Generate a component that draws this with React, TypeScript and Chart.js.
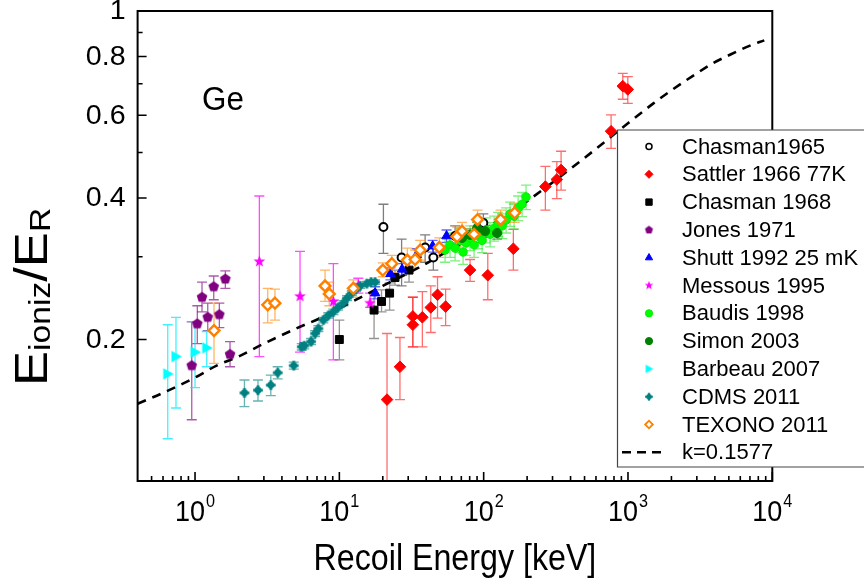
import React, { useEffect, useRef } from 'react';
import { Chart, registerables } from 'chart.js';
import { drawPoint } from 'chart.js/helpers';

Chart.register(...registerables);

const W = 864;
const H = 581;
const FONT = '"Liberation Sans", Arial, Helvetica, sans-serif';

// ---------------- data ----------------
const chasman65E = [20.2, 27.0, 39.3, 44.8, 63.4, 99.5];
const chasman65Y = [0.347, 0.299, 0.314, 0.299, 0.332, 0.354];
const chasman65Lo = [0.305, 0.260, 0.292, 0.281, 0.316, 0.339];
const chasman65Hi = [0.388, 0.327, 0.334, 0.316, 0.349, 0.370];

const sattlerE = [21.4, 26.3, 32.3, 32.3, 37.6, 43.0, 47.9, 54.5, 80.5, 106.8, 160.6, 267.7, 321.1, 343.9, 763.6, 920.4, 997];
const sattlerY = [0.149, 0.175, 0.224, 0.215, 0.223, 0.234, 0.249, 0.235, 0.281, 0.274, 0.312, 0.423, 0.438, 0.459, 0.555, 0.692, 0.681];
const sattlerLo = [0.05, 0.149, 0.193, 0.193, 0.193, 0.207, 0.222, 0.214, 0.266, 0.243, 0.281, 0.377, 0.399, 0.416, 0.510, 0.649, 0.636];
const sattlerHi = [0.206, 0.202, 0.246, 0.246, 0.253, 0.260, 0.272, 0.256, 0.296, 0.305, 0.343, 0.467, 0.478, 0.503, 0.601, 0.737, 0.725];

const chasman68E = [10.0, 17.4, 19.6, 22.3, 24.3, 30.4];
const chasman68Y = [0.200, 0.231, 0.241, 0.251, 0.271, 0.281];
const chasman68Lo = [0.181, 0.201, 0.229, 0.231, 0.261, 0.265];
const chasman68Hi = [0.220, 0.251, 0.255, 0.264, 0.281, 0.295];

const jonesE = [0.949, 1.037, 1.118, 1.225, 1.348, 1.474, 1.622, 1.748];
const jonesY = [0.176, 0.216, 0.246, 0.223, 0.259, 0.226, 0.269, 0.186];
const jonesLo = [0.135, 0.196, 0.229, 0.209, 0.243, 0.212, 0.257, 0.175];
const jonesHi = [0.218, 0.236, 0.265, 0.239, 0.273, 0.239, 0.280, 0.198];

const shuttE = [17.7, 22.6, 27.2, 34.4, 44.3, 55.3];
const shuttY = [0.251, 0.276, 0.282, 0.303, 0.316, 0.332];
const shuttLo = [0.244, 0.268, 0.274, 0.294, 0.307, 0.322];
const shuttHi = [0.259, 0.284, 0.290, 0.312, 0.325, 0.342];

const messousE = [2.79, 5.34, 9.09, 13.54, 16.32];
const messousY = [0.293, 0.247, 0.241, 0.261, 0.239];
const messousLo = [0.184, 0.188, 0.181, 0.251, 0.234];
const messousHi = [0.404, 0.308, 0.290, 0.270, 0.251];

const baudisE = [54.0, 58.5, 63.4, 68.6, 72.0, 75.5, 80.5, 85.8, 91.5, 97.5, 103.9, 110.8, 118.1, 125.9, 134.2, 143.0, 152.4, 162.4, 173.2, 184.6, 196.7];
const baudisY = [0.310, 0.318, 0.313, 0.325, 0.307, 0.321, 0.329, 0.318, 0.332, 0.325, 0.342, 0.335, 0.345, 0.352, 0.349, 0.359, 0.370, 0.366, 0.381, 0.388, 0.402];
const baudisLo = [0.292, 0.299, 0.294, 0.306, 0.289, 0.302, 0.309, 0.299, 0.312, 0.306, 0.321, 0.315, 0.324, 0.331, 0.328, 0.337, 0.348, 0.344, 0.358, 0.365, 0.378];
const baudisHi = [0.329, 0.337, 0.332, 0.345, 0.325, 0.340, 0.349, 0.337, 0.352, 0.345, 0.363, 0.355, 0.366, 0.373, 0.370, 0.381, 0.392, 0.388, 0.404, 0.411, 0.426];

const simonE = [70.8, 80.5, 90.2, 102.3, 123.9];
const simonY = [0.329, 0.334, 0.345, 0.340, 0.337];
const simonLo = [0.319, 0.324, 0.335, 0.330, 0.327];
const simonHi = [0.339, 0.344, 0.355, 0.350, 0.347];

const barbeauE = [0.647, 0.738, 1.0, 1.205];
const barbeauY = [0.169, 0.184, 0.188, 0.192];
const barbeauLo = [0.123, 0.143, 0.158, 0.175];
const barbeauHi = [0.215, 0.223, 0.218, 0.208];

const cdmsE = [2.20, 2.73, 3.35, 3.74, 4.83, 5.49, 5.72, 6.37, 6.79, 7.15, 7.75, 8.39, 9.09, 9.79, 10.66, 11.31, 12.19, 13.05, 13.92, 15.49, 16.59, 17.68];
const cdmsY = [0.154, 0.156, 0.160, 0.170, 0.176, 0.193, 0.194, 0.198, 0.206, 0.211, 0.220, 0.225, 0.229, 0.234, 0.239, 0.245, 0.251, 0.256, 0.260, 0.263, 0.265, 0.265];
const cdmsLo = [0.144, 0.148, 0.152, 0.165, 0.173, 0.190, 0.191, 0.195, 0.203, 0.208, 0.217, 0.222, 0.226, 0.231, 0.236, 0.242, 0.248, 0.253, 0.257, 0.260, 0.262, 0.262];
const cdmsHi = [0.164, 0.164, 0.168, 0.175, 0.179, 0.196, 0.197, 0.201, 0.209, 0.214, 0.223, 0.228, 0.232, 0.237, 0.242, 0.248, 0.254, 0.259, 0.263, 0.266, 0.268, 0.268];

const texonoE = [1.354, 3.19, 3.58, 7.96, 8.52, 12.5, 20.0, 23.1, 29.6, 33.5, 36.3, 49.3, 65.4, 70.8, 85.8, 90.7, 131, 164];
const texonoY = [0.209, 0.237, 0.239, 0.260, 0.250, 0.257, 0.281, 0.290, 0.295, 0.296, 0.310, 0.314, 0.331, 0.340, 0.335, 0.360, 0.360, 0.372];
const texonoLo = [0.178, 0.217, 0.220, 0.241, 0.236, 0.246, 0.272, 0.278, 0.277, 0.284, 0.295, 0.299, 0.315, 0.325, 0.321, 0.344, 0.344, 0.355];
const texonoHi = [0.239, 0.257, 0.256, 0.281, 0.265, 0.268, 0.291, 0.302, 0.313, 0.310, 0.325, 0.329, 0.347, 0.355, 0.349, 0.377, 0.377, 0.390];

const curveE = [0.4, 0.6, 1, 1.41, 2, 3, 5, 7.35, 10, 20, 38.2, 50, 100, 200, 500, 1000, 1500, 2000, 3000, 3900, 5000, 7000, 8800];
const curveY = [0.146, 0.154, 0.166, 0.176, 0.184, 0.196, 0.211, 0.222, 0.233, 0.26, 0.288, 0.302, 0.342, 0.394, 0.487, 0.577, 0.636, 0.678, 0.737, 0.775, 0.805, 0.844, 0.866];

const xMajorTicks = [1, 10, 100, 1000, 10000];
const xTickExponents = ['0', '1', '2', '3', '4'];
const yMajorTicks = [0.2, 0.4, 0.6, 0.8, 1];
const yTickLabels = ['0.2', '0.4', '0.6', '0.8', '1'];
const yMinorTicks = [0.3, 0.5, 0.7, 0.9];

const legendLabels = [
  'Chasman1965', 'Sattler 1966 77K', 'Chasman 1968', 'Jones 1971', 'Shutt 1992 25 mK',
  'Messous 1995', 'Baudis 1998', 'Simon 2003', 'Barbeau 2007', 'CDMS 2011', 'TEXONO 2011',
];
const curveLabel = 'k=0.1577';

// ---------------- helpers ----------------
function makeShape(kind: string, color: string, r: number): HTMLCanvasElement {
  const size = Math.ceil(r * 2 + 4);
  const cv = document.createElement('canvas');
  cv.width = size;
  cv.height = size;
  const c = cv.getContext('2d') as CanvasRenderingContext2D;
  const cx = size / 2;
  const cy = size / 2;
  c.fillStyle = color;
  c.strokeStyle = color;
  c.beginPath();
  if (kind === 'pentagon') {
    for (let k = 0; k < 5; k++) {
      const a = -Math.PI / 2 + (k * 2 * Math.PI) / 5;
      const px = cx + r * Math.cos(a);
      const py = cy + r * Math.sin(a);
      if (k) c.lineTo(px, py); else c.moveTo(px, py);
    }
    c.closePath();
    c.fill();
  } else if (kind === 'star') {
    for (let k = 0; k < 10; k++) {
      const a = -Math.PI / 2 + (k * Math.PI) / 5;
      const rr = k % 2 ? r * 0.42 : r;
      const px = cx + rr * Math.cos(a);
      const py = cy + rr * Math.sin(a);
      if (k) c.lineTo(px, py); else c.moveTo(px, py);
    }
    c.closePath();
    c.fill();
  } else if (kind === 'rtri') {
    c.moveTo(cx + r, cy);
    c.lineTo(cx - r * 0.75, cy - r * 0.95);
    c.lineTo(cx - r * 0.75, cy + r * 0.95);
    c.closePath();
    c.fill();
  } else if (kind === 'cdms') {
    c.arc(cx, cy, r * 0.72, 0, 2 * Math.PI);
    c.fill();
    c.fillRect(cx - r, cy - r * 0.3, 2 * r, r * 0.6);
    c.fillRect(cx - r * 0.3, cy - r, r * 0.6, 2 * r);
  }
  return cv;
}

type SeriesDef = {
  label: string;
  E: number[];
  Y: number[];
  lo: number[];
  hi: number[];
  style: any;
  fill: string;
  stroke: string;
  radius: number;
  bw: number;
  err: string;
  legendStyle: any;
  legendRadius: number;
  legendBw: number;
};

function buildSeries(): SeriesDef[] {
  const purple = '#800080';
  const magenta = '#ff00ff';
  const cyan = '#00ffff';
  const teal = '#008080';
  return [
    { label: legendLabels[0], E: chasman65E, Y: chasman65Y, lo: chasman65Lo, hi: chasman65Hi, style: 'circle', fill: '#ffffff', stroke: '#000000', radius: 4, bw: 2, err: 'rgba(40,40,40,0.6)', legendStyle: 'circle', legendRadius: 3, legendBw: 1.5 },
    { label: legendLabels[1], E: sattlerE, Y: sattlerY, lo: sattlerLo, hi: sattlerHi, style: 'rectRot', fill: '#ff0000', stroke: '#ff0000', radius: 5.8, bw: 1, err: 'rgba(255,30,30,0.65)', legendStyle: 'rectRot', legendRadius: 4, legendBw: 1 },
    { label: legendLabels[2], E: chasman68E, Y: chasman68Y, lo: chasman68Lo, hi: chasman68Hi, style: 'rect', fill: '#000000', stroke: '#000000', radius: 5.6, bw: 1, err: 'rgba(60,60,60,0.55)', legendStyle: 'rect', legendRadius: 4.5, legendBw: 1 },
    { label: legendLabels[3], E: jonesE, Y: jonesY, lo: jonesLo, hi: jonesHi, style: makeShape('pentagon', purple, 5.6), fill: purple, stroke: purple, radius: 5, bw: 0, err: 'rgba(128,0,128,0.65)', legendStyle: makeShape('pentagon', purple, 4.2), legendRadius: 4, legendBw: 0 },
    { label: legendLabels[4], E: shuttE, Y: shuttY, lo: shuttLo, hi: shuttHi, style: 'triangle', fill: '#0000ff', stroke: '#0000ff', radius: 5.5, bw: 1, err: 'rgba(0,0,255,0.6)', legendStyle: 'triangle', legendRadius: 4.2, legendBw: 1 },
    { label: legendLabels[5], E: messousE, Y: messousY, lo: messousLo, hi: messousHi, style: makeShape('star', magenta, 6.2), fill: magenta, stroke: magenta, radius: 5, bw: 0, err: 'rgba(255,0,255,0.7)', legendStyle: makeShape('star', magenta, 4.6), legendRadius: 4, legendBw: 0 },
    { label: legendLabels[6], E: baudisE, Y: baudisY, lo: baudisLo, hi: baudisHi, style: 'circle', fill: '#00ff00', stroke: '#00ee00', radius: 4.2, bw: 1, err: 'rgba(40,230,40,0.6)', legendStyle: 'circle', legendRadius: 3.6, legendBw: 1 },
    { label: legendLabels[7], E: simonE, Y: simonY, lo: simonLo, hi: simonHi, style: 'circle', fill: '#008000', stroke: '#008000', radius: 4.6, bw: 1, err: 'rgba(0,110,0,0.6)', legendStyle: 'circle', legendRadius: 3.6, legendBw: 1 },
    { label: legendLabels[8], E: barbeauE, Y: barbeauY, lo: barbeauLo, hi: barbeauHi, style: makeShape('rtri', cyan, 6), fill: cyan, stroke: cyan, radius: 5, bw: 0, err: 'rgba(0,235,255,0.75)', legendStyle: makeShape('rtri', cyan, 4.4), legendRadius: 4, legendBw: 0 },
    { label: legendLabels[9], E: cdmsE, Y: cdmsY, lo: cdmsLo, hi: cdmsHi, style: makeShape('cdms', teal, 4.8), fill: teal, stroke: teal, radius: 5, bw: 0, err: 'rgba(0,128,128,0.6)', legendStyle: makeShape('cdms', teal, 3.8), legendRadius: 4, legendBw: 0 },
    { label: legendLabels[10], E: texonoE, Y: texonoY, lo: texonoLo, hi: texonoHi, style: 'rectRot', fill: '#ffffff', stroke: '#ff8000', radius: 5.4, bw: 2.4, err: 'rgba(255,140,20,0.65)', legendStyle: 'rectRot', legendRadius: 3.8, legendBw: 1.8 },
  ];
}

function drawScaledText(ctx: CanvasRenderingContext2D, text: string, x: number, y: number, font: string, align: 'left' | 'center' | 'right', sx: number) {
  ctx.save();
  ctx.font = font;
  const w = ctx.measureText(text).width * sx;
  let left = x;
  if (align === 'center') left = x - w / 2;
  if (align === 'right') left = x - w;
  ctx.translate(left, y);
  ctx.scale(sx, 1);
  ctx.textAlign = 'left';
  ctx.fillText(text, 0, 0);
  ctx.restore();
}

function makeDecorPlugin(series: SeriesDef[]) {
  return {
    id: 'decor',
    beforeDatasetsDraw(chart: any) {
      const { ctx, chartArea } = chart;
      const xs = chart.scales.x;
      const ys = chart.scales.y;
      ctx.save();
      ctx.beginPath();
      ctx.rect(chartArea.left, chartArea.top, chartArea.right - chartArea.left, chartArea.bottom - chartArea.top);
      ctx.clip();
      ctx.lineWidth = 1.3;
      chart.data.datasets.forEach((ds: any) => {
        if (!ds.errLo) return;
        ctx.strokeStyle = ds.errColor;
        ds.data.forEach((p: any, i: number) => {
          const px = xs.getPixelForValue(p.x);
          const yl = ys.getPixelForValue(ds.errLo[i]);
          const yh = ys.getPixelForValue(ds.errHi[i]);
          ctx.beginPath();
          ctx.moveTo(px, yl);
          ctx.lineTo(px, yh);
          ctx.moveTo(px - 5, yl);
          ctx.lineTo(px + 5, yl);
          ctx.moveTo(px - 5, yh);
          ctx.lineTo(px + 5, yh);
          ctx.stroke();
        });
      });
      ctx.restore();
    },
    afterDatasetsDraw(chart: any) {
      const { ctx, chartArea } = chart;
      const xs = chart.scales.x;
      const ys = chart.scales.y;
      const { left, right, top, bottom } = chartArea;
      ctx.save();
      // frame
      ctx.strokeStyle = '#000';
      ctx.lineWidth = 2;
      ctx.strokeRect(left, top, right - left, bottom - top);
      // ticks
      ctx.lineWidth = 1.6;
      ctx.beginPath();
      yMajorTicks.forEach((v) => {
        const py = ys.getPixelForValue(v);
        ctx.moveTo(left, py);
        ctx.lineTo(left + 9, py);
      });
      yMinorTicks.forEach((v) => {
        const py = ys.getPixelForValue(v);
        ctx.moveTo(left, py);
        ctx.lineTo(left + 5, py);
      });
      xMajorTicks.forEach((v) => {
        const px = xs.getPixelForValue(v);
        ctx.moveTo(px, bottom);
        ctx.lineTo(px, bottom - 9);
      });
      for (let d = 0.1; d < 5000; d *= 10) {
        for (let m = 2; m <= 9; m++) {
          const v = d * m;
          if (v <= xs.min || v >= xs.max) continue;
          const px = xs.getPixelForValue(v);
          ctx.moveTo(px, bottom);
          ctx.lineTo(px, bottom - 5);
        }
      }
      ctx.stroke();

      // y tick labels
      ctx.fillStyle = '#000';
      ctx.textBaseline = 'middle';
      yMajorTicks.forEach((v, i) => {
        const py = ys.getPixelForValue(v);
        drawScaledText(ctx, yTickLabels[i], left - 12, py + 1, `27px ${FONT}`, 'right', 1.06);
      });

      // x tick labels: 10^n
      ctx.textBaseline = 'alphabetic';
      xMajorTicks.forEach((v, i) => {
        const px = xs.getPixelForValue(v);
        ctx.font = `30px ${FONT}`;
        const sxMain = 0.9;
        const wMain = ctx.measureText('10').width * sxMain;
        ctx.font = `18px ${FONT}`;
        const wExp = ctx.measureText(xTickExponents[i]).width * 0.9;
        const start = px - (wMain + wExp + 1) / 2;
        drawScaledText(ctx, '10', start, 521, `30px ${FONT}`, 'left', sxMain);
        drawScaledText(ctx, xTickExponents[i], start + wMain + 1, 507, `18px ${FONT}`, 'left', 0.9);
      });

      // x title
      drawScaledText(ctx, 'Recoil Energy [keV]', (left + right) / 2, 570, `37px ${FONT}`, 'center', 0.87);

      // y title (rotated, with subscripts)
      ctx.save();
      ctx.translate(47, 386);
      ctx.rotate(-Math.PI / 2);
      ctx.scale(1.12, 0.97);
      ctx.textAlign = 'left';
      ctx.textBaseline = 'alphabetic';
      let cx = 0;
      const big = `47px ${FONT}`;
      const small = `30px ${FONT}`;
      ctx.font = big;
      ctx.fillText('E', cx, 0);
      cx += ctx.measureText('E').width;
      ctx.font = small;
      ctx.fillText('ioniz', cx, 3);
      cx += ctx.measureText('ioniz').width;
      ctx.font = big;
      ctx.fillText('/E', cx, 0);
      cx += ctx.measureText('/E').width;
      ctx.font = small;
      ctx.fillText('R', cx, 3);
      ctx.restore();

      // Ge label
      drawScaledText(ctx, 'Ge', 202, 110, `33px ${FONT}`, 'left', 0.95);

      // legend
      const lx = 617.5;
      const ly = 130;
      const lb = 467;
      ctx.fillStyle = '#ffffff';
      ctx.fillRect(lx, ly, W - lx + 10, lb - ly);
      ctx.strokeStyle = '#444';
      ctx.lineWidth = 1.2;
      ctx.beginPath();
      ctx.moveTo(W + 5, ly);
      ctx.lineTo(lx, ly);
      ctx.lineTo(lx, lb);
      ctx.lineTo(W + 5, lb);
      ctx.stroke();
      const rowH = 27.8;
      const y0 = 146.5;
      series.forEach((s, i) => {
        const yy = y0 + i * rowH;
        ctx.fillStyle = s.fill;
        ctx.strokeStyle = s.stroke;
        ctx.lineWidth = s.legendBw;
        drawPoint(ctx, { pointStyle: s.legendStyle, radius: s.legendRadius, rotation: 0, borderWidth: s.legendBw } as any, 649, yy);
        ctx.fillStyle = '#000';
        ctx.textBaseline = 'middle';
        drawScaledText(ctx, s.label, 682, yy + 1, `22px ${FONT}`, 'left', 1);
      });
      const yk = y0 + series.length * rowH;
      ctx.strokeStyle = '#000';
      ctx.lineWidth = 2.5;
      ctx.setLineDash([9, 6]);
      ctx.beginPath();
      ctx.moveTo(622, yk);
      ctx.lineTo(664, yk);
      ctx.stroke();
      ctx.setLineDash([]);
      ctx.fillStyle = '#000';
      ctx.textBaseline = 'middle';
      drawScaledText(ctx, curveLabel, 682, yk + 1, `22px ${FONT}`, 'left', 1);
      ctx.restore();
    },
  };
}

export default function App() {
  const canvasRef = useRef<HTMLCanvasElement | null>(null);

  useEffect(() => {
    const canvas = canvasRef.current;
    if (!canvas) return;
    const series = buildSeries();
    const datasets: any[] = series.map((s, idx) => ({
      type: 'scatter',
      label: s.label,
      data: s.E.map((x, i) => ({ x, y: s.Y[i] })),
      errLo: s.lo,
      errHi: s.hi,
      errColor: s.err,
      pointStyle: s.style,
      pointRadius: s.radius,
      pointBackgroundColor: s.fill,
      pointBorderColor: s.stroke,
      pointBorderWidth: s.bw,
      order: 20 - idx,
      clip: 6,
    }));
    datasets.push({
      type: 'line',
      label: curveLabel,
      data: curveE.map((x, i) => ({ x, y: curveY[i] })),
      borderColor: '#000',
      borderWidth: 2.6,
      borderDash: [9, 7],
      pointRadius: 0,
      showLine: true,
      fill: false,
      cubicInterpolationMode: 'monotone',
      order: 100,
    });

    const chart = new Chart(canvas, {
      type: 'scatter',
      data: { datasets },
      options: {
        responsive: false,
        animation: false,
        events: [],
        layout: { padding: { left: 137.6, right: W - 772.3, top: 11, bottom: H - 481 } },
        scales: {
          x: { type: 'logarithmic', min: 0.4, max: 10000, display: false },
          y: { type: 'logarithmic', min: 0.1, max: 1, display: false },
        },
        plugins: {
          legend: { display: false },
          tooltip: { enabled: false },
        },
      } as any,
      plugins: [makeDecorPlugin(series) as any],
    });
    return () => {
      chart.destroy();
    };
  }, []);

  return (
    <div style={{ position: 'fixed', left: 0, top: 0, width: W, height: H, background: '#ffffff' }}>
      <canvas ref={canvasRef} width={W} height={H} style={{ width: W, height: H, display: 'block' }} />
    </div>
  );
}
